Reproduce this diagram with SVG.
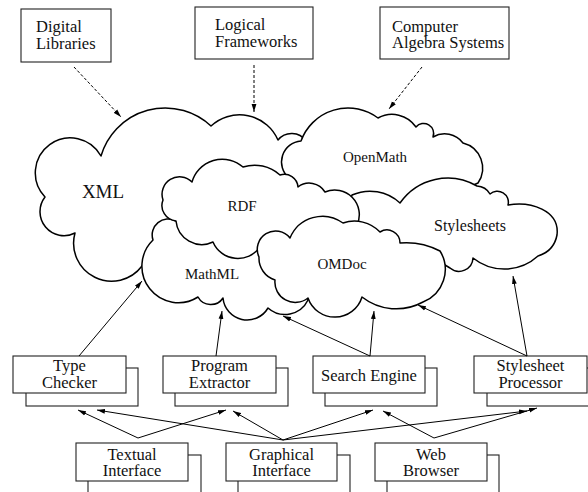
<svg xmlns="http://www.w3.org/2000/svg" width="588" height="492" viewBox="0 0 588 492">
<style>
.cloud{fill:#fff;stroke:#000;stroke-width:1.5;stroke-linejoin:round}
.box{fill:#fff;stroke:#222;stroke-width:1.1}
.t{font-family:"Liberation Serif","Times New Roman",serif;fill:#111}
.bt{font-size:16.5px}
.ct{font-size:15px;text-anchor:middle}
.mid{text-anchor:middle}
.c{fill:none;stroke:#000;stroke-width:1}
.d{fill:none;stroke:#000;stroke-width:1;stroke-dasharray:3,2}
</style>
<defs>
<marker id="ah" markerWidth="8" markerHeight="6" refX="8" refY="3" orient="auto" markerUnits="userSpaceOnUse">
<path d="M0,0.6 L8,3 L0,5.4 Z" fill="#000"/>
</marker>
</defs>
<rect width="588" height="492" fill="#fff"/>

<g id="digital-libraries">
<rect class="box" x="21" y="9" width="90" height="53"/>
<text class="t bt" x="36" y="32">Digital</text>
<text class="t bt" x="36" y="49">Libraries</text>
</g>
<g id="logical-frameworks">
<rect class="box" x="195" y="7" width="118" height="52"/>
<text class="t bt" x="215" y="30">Logical</text>
<text class="t bt" x="215" y="47">Frameworks</text>
</g>
<g id="computer-algebra">
<rect class="box" x="380" y="7" width="129" height="52"/>
<text class="t bt" x="392" y="32">Computer</text>
<text class="t bt" x="392" y="48">Algebra Systems</text>
</g>

<g id="xml">
<path class="cloud" d="M75,233 A24,24 0 0 1 45,197 A35,35 0 1 1 101,156 A67,67 0 0 1 211,126 A42,42 0 0 1 278,140 A17.5,17.5 0 0 1 306,141 L325,175 L230,235 L150,262 L142,266 A38,38 0 0 1 75,233 Z"/>
<text class="t" x="103" y="198" font-size="19" text-anchor="middle">XML</text>
</g>
<g id="openmath">
<path class="cloud" d="M289,178 A21,21 0 0 1 301,141 A50,50 0 0 1 378,118 A29,29 0 0 1 416,127 A10,10 0 0 1 433,137 A23,23 0 0 1 463,143 A26,26 0 0 1 478,183 L440,200 L340,210 L296,195 Z"/>
<text class="t ct" x="375" y="162">OpenMath</text>
</g>
<g id="stylesheets">
<path class="cloud" d="M345,215 L352,195 A44,44 0 0 1 400,203 A58,58 0 0 1 477,186 A16,16 0 0 1 490,194 A11,11 0 0 1 508,205 C530,201 560,210 557,235 Q554,251 538,256 A50,50 0 0 1 473,258 A14,14 0 0 1 450,268 L440,262 L370,245 Z"/>
<text class="t" x="470" y="231" font-size="16" text-anchor="middle">Stylesheets</text>
</g>
<g id="mathml">
<path class="cloud" d="M308,300 A25.6,25.6 0 0 1 268,308 A24.2,24.2 0 0 1 223,298 A14.6,14.6 0 0 1 198,297 A36.5,36.5 0 0 1 153,240 A16,16 0 0 1 176,221 L200,205 L290,250 L304,288 Z"/>
<text class="t ct" x="212" y="279">MathML</text>
</g>
<g id="rdf">
<path class="cloud" d="M260,247 A27,27 0 0 1 213,242 A26,26 0 0 1 176,221 A15.5,15.5 0 0 1 163,200 A17.5,17.5 0 0 1 192,182 A31.5,31.5 0 0 1 243,167 A37.6,37.6 0 0 1 280,175 A13.7,13.7 0 0 1 298,187 A18.4,18.4 0 0 1 325,192 A24.6,24.6 0 0 1 357,225 L320,262 L275,255 Z"/>
<text class="t ct" x="242" y="211">RDF</text>
</g>
<g id="omdoc">
<path class="cloud" d="M308,298 A20.4,20.4 0 0 1 275,280 A22.8,22.8 0 0 1 259,257 A18.3,18.3 0 0 1 290,238 A35,35 0 0 1 343,223 A35.5,35.5 0 0 1 380,232 A13,13 0 0 1 400,243 A73,73 0 0 1 440,251 A35,35 0 0 1 423,302 A55.5,55.5 0 0 1 362,297 A28.4,28.4 0 0 1 308,298 Z"/>
<text class="t ct" x="342" y="269">OMDoc</text>
</g>

<g id="type-checker">
<rect class="box" x="26" y="368" width="112" height="38"/>
<rect class="box" x="13" y="356" width="113" height="37"/>
<text class="t bt mid" x="69.5" y="371">Type</text>
<text class="t bt mid" x="69.5" y="388">Checker</text>
</g>
<g id="program-extractor">
<rect class="box" x="175" y="368" width="113" height="38"/>
<rect class="box" x="163" y="356" width="113" height="37"/>
<text class="t bt mid" x="219.5" y="371">Program</text>
<text class="t bt mid" x="219.5" y="388">Extractor</text>
</g>
<g id="search-engine">
<rect class="box" x="325" y="368" width="112" height="38"/>
<rect class="box" x="313" y="356" width="112" height="37"/>
<text class="t bt mid" x="369" y="381">Search Engine</text>
</g>
<g id="stylesheet-processor">
<rect class="box" x="487" y="368" width="113" height="38"/>
<rect class="box" x="474" y="356" width="113" height="37"/>
<text class="t bt mid" x="530.5" y="371">Stylesheet</text>
<text class="t bt mid" x="530.5" y="388">Processor</text>
</g>

<g id="textual-interface">
<rect class="box" x="88" y="455" width="113" height="45"/>
<rect class="box" x="76" y="443" width="112" height="38"/>
<text class="t bt mid" x="132" y="460">Textual</text>
<text class="t bt mid" x="132" y="476">Interface</text>
</g>
<g id="graphical-interface">
<rect class="box" x="238" y="455" width="112" height="45"/>
<rect class="box" x="226" y="443" width="111" height="38"/>
<text class="t bt mid" x="281.5" y="460">Graphical</text>
<text class="t bt mid" x="281.5" y="476">Interface</text>
</g>
<g id="web-browser">
<rect class="box" x="387" y="455" width="112" height="45"/>
<rect class="box" x="375" y="443" width="112" height="38"/>
<text class="t bt mid" x="431" y="460">Web</text>
<text class="t bt mid" x="431" y="476">Browser</text>
</g>

<g id="connectors">
<line class="d" x1="74" y1="67" x2="121" y2="117" marker-end="url(#ah)"/>
<line class="d" x1="254" y1="65" x2="254" y2="112" marker-end="url(#ah)"/>
<line class="d" x1="422" y1="67" x2="389" y2="109" marker-end="url(#ah)"/>
<line class="c" x1="79" y1="356" x2="142" y2="281" marker-end="url(#ah)"/>
<line class="c" x1="216" y1="356" x2="222" y2="311" marker-end="url(#ah)"/>
<line class="c" x1="370" y1="356" x2="374" y2="311" marker-end="url(#ah)"/>
<line class="c" x1="370" y1="356" x2="283" y2="316" marker-end="url(#ah)"/>
<line class="c" x1="527" y1="356" x2="513" y2="276" marker-end="url(#ah)"/>
<line class="c" x1="527" y1="356" x2="418" y2="305" marker-end="url(#ah)"/>
<line class="c" x1="138" y1="438" x2="78" y2="410" marker-end="url(#ah)"/>
<line class="c" x1="138" y1="438" x2="226" y2="410" marker-end="url(#ah)"/>
<line class="c" x1="283" y1="440" x2="97" y2="410" marker-end="url(#ah)"/>
<line class="c" x1="283" y1="440" x2="233" y2="411" marker-end="url(#ah)"/>
<line class="c" x1="283" y1="440" x2="373" y2="410" marker-end="url(#ah)"/>
<line class="c" x1="283" y1="440" x2="527" y2="411" marker-end="url(#ah)"/>
<line class="c" x1="434" y1="438" x2="383" y2="411" marker-end="url(#ah)"/>
<line class="c" x1="434" y1="438" x2="537" y2="408" marker-end="url(#ah)"/>
</g>
</svg>
